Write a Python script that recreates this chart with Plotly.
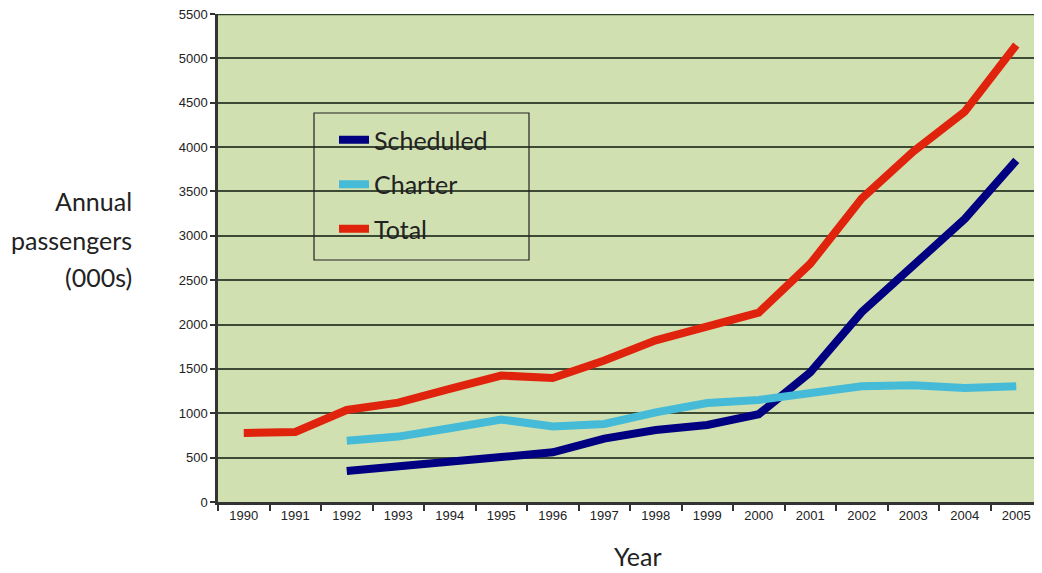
import plotly.graph_objects as go

years = [str(y) for y in range(1990, 2006)]
scheduled = [None, None, 349, 395, 443, 507, 560, 715, 812, 868, 990, 1460, 2140, 2660, 3190, 3850]
charter = [None, None, 691, 737, 832, 930, 850, 880, 1010, 1116, 1150, 1220, 1305, 1315, 1285, 1305]
total = [778, 789, 1037, 1120, 1275, 1425, 1398, 1595, 1822, 1973, 2135, 2685, 3420, 3950, 4400, 5150]
yticks = list(range(0, 5501, 500))
ytitle_lines = ["Annual", "passengers", "(000s)"]

fig = go.Figure()
series = [("Scheduled", scheduled, "#000080"),
          ("Charter", charter, "#45bbd8"),
          ("Total", total, "#e0230c")]
for name, vals, col in series:
    fig.add_trace(go.Scatter(x=years, y=vals, mode="lines", name=name,
                             legendgroup=name,
                             line=dict(color=col, width=8)))

# page body margin offsets the figure by 8px
OFF = 8
W, H = 1042 - OFF, 573 - OFF
L, T, B = 218 - OFF, 14 - OFF, 573 - 502
PW = W - L
PH = H - T - B
def px(x):
    return (x - OFF - L) / PW
def py(y):
    return (H - B - (y - OFF)) / PH

annotations = []
for txt, yc in zip(ytitle_lines, [201, 240, 277]):
    annotations.append(dict(text=txt, xref="paper", yref="paper",
                            x=px(134), y=py(yc), xanchor="right", yanchor="middle",
                            showarrow=False,
                            font=dict(family="Lato, Open Sans", size=25, color="#222")))
annotations.append(dict(text="Year", xref="paper", yref="paper", x=px(638), y=py(556),
                        xanchor="center", yanchor="middle", showarrow=False,
                        font=dict(family="Lato, Open Sans", size=25, color="#222")))

fig.update_layout(
    width=W, height=H,
    margin=dict(l=L, r=0, t=T, b=B, autoexpand=False),
    paper_bgcolor="white",
    plot_bgcolor="#d1e0b0",
    font=dict(family="Liberation Sans, Arial", size=13, color="#222"),
    showlegend=True,
    legend=dict(x=px(334), y=py(117), xanchor="left", yanchor="top",
                bgcolor="rgba(0,0,0,0)", borderwidth=0,
                font=dict(family="Lato, Open Sans", size=25, color="#222"),
                traceorder="grouped", tracegroupgap=9,
                itemwidth=30),
    xaxis=dict(type="category", range=[-0.5, 15.5], tickson="boundaries",
               ticks="outside", ticklen=6, tickcolor="#333", tickwidth=1.5,
               showgrid=False, showline=True, linecolor="#333", linewidth=2.5,
               tickfont=dict(size=13, family="Liberation Sans, Arial"),
               ticklabeloverflow="allow",
               zeroline=False, automargin=False),
    yaxis=dict(range=[0, 5500], tickvals=yticks, ticks="outside", ticklen=5,
               tickcolor="#333", tickwidth=1.5, showgrid=True,
               gridcolor="#3d4a35", gridwidth=1.5,
               showline=True, linecolor="#333", linewidth=2.5,
               tickfont=dict(size=13, family="Liberation Sans, Arial"),
               ticklabeloverflow="allow",
               zeroline=False, automargin=False),
    annotations=annotations,
)
fig.add_shape(type="line", xref="paper", yref="y", x0=0, x1=1, y0=5500, y1=5500,
              line=dict(color="#2b3d25", width=2.5))
fig.add_shape(type="rect", xref="paper", yref="paper",
              x0=px(314), x1=px(529), y0=py(260), y1=py(113),
              line=dict(color="#222", width=1.2))

fig.write_html("out.html")
